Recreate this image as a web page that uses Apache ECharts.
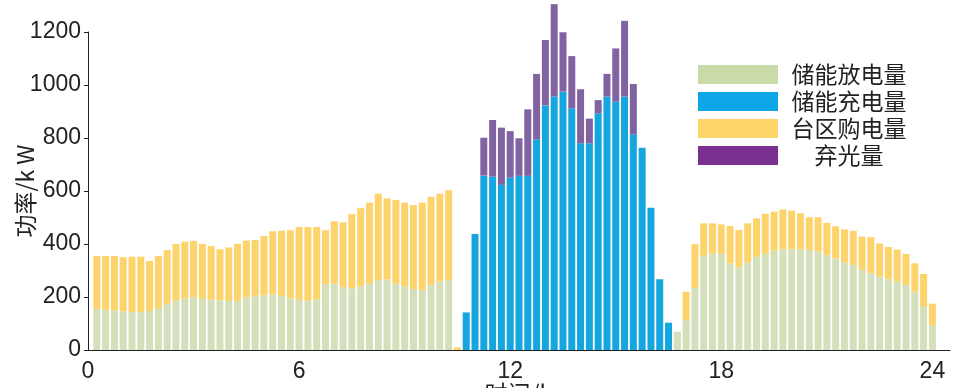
<!DOCTYPE html>
<html><head><meta charset="utf-8">
<script src="https://cdn.jsdelivr.net/npm/echarts@6/dist/echarts.min.js"></script>
<style>html,body{margin:0;padding:0;background:#fff}#c{width:958px;height:388px}</style>
</head><body><div id="c"></div>
<script>
const seriesNames = ['储能放电量', '储能充电量', '台区购电量', '弃光量'];
const xAxisTitle = '时间/h';
const yAxisTitle = '功率/k W';
const xTickHours = [0, 6, 12, 18, 24];
const yTickValues = [0, 200, 400, 600, 800, 1000, 1200];
// 15-minute slots: slot k (k = 0 .. 98) sits at hour k/4; bars occupy slots 1..96
const slotHours = Array.from({length: 99}, (_, k) => k / 4);

const discharge = [155,152,149,146,143,143,147,157,174,186,195,199,193,190,187,185,185,198,204,206,209,204,195,189,186,190,248,250,237,233,240,250,264,266,250,240,230,226,245,258,264,
  0,
  0,0,0,0,0,0,0,0,0,0,0,0,0,0,0,0,0,0,0,0,0,0,0,0,
  69,
  113,234,354,364,362,327,312,330,352,362,375,380,380,380,377,371,358,346,330,321,302,289,277,267,258,245,220,163,94];

const charge = [0,0,0,0,0,0,0,0,0,0,0,0,0,0,0,0,0,0,0,0,0,0,0,0,0,0,0,0,0,0,0,0,0,0,0,0,0,0,0,0,0,
  0,
  142,438,658,654,623,650,657,657,795,923,956,975,912,780,780,893,956,937,956,814,763,537,267,103,
  0,
  0,0,0,0,0,0,0,0,0,0,0,0,0,0,0,0,0,0,0,0,0,0,0,0,0,0,0,0,0];

const purchase = [200,203,206,204,209,209,189,198,203,214,214,213,207,202,193,202,216,215,211,224,239,246,257,275,278,274,204,236,245,280,295,306,326,306,316,316,317,330,333,332,339,
  10,
  0,0,0,0,0,0,0,0,0,0,0,0,0,0,0,0,0,0,0,0,0,0,0,0,
  0,
  107,165,124,114,112,141,141,148,145,152,147,150,146,136,124,130,122,121,125,129,126,137,125,122,121,117,107,124,81];

const curtail = [0,0,0,0,0,0,0,0,0,0,0,0,0,0,0,0,0,0,0,0,0,0,0,0,0,0,0,0,0,0,0,0,0,0,0,0,0,0,0,0,0,
  0,
  0,0,143,214,216,176,142,251,247,247,349,224,197,204,93,50,86,201,286,190,0,0,0,0,
  0,
  0,0,0,0,0,0,0,0,0,0,0,0,0,0,0,0,0,0,0,0,0,0,0,0,0,0,0,0,0];

const barColors = ['#d4dfbc', '#15a6df', '#fdd46b', '#8263a2'];
const legendColors = ['#c9dba9', '#0ea6e6', '#fdd46a', '#7b2f8e'];
const values = [discharge, charge, purchase, curtail];

const chart = echarts.init(document.getElementById('c'), null, {renderer: 'canvas'});
const numFont = 'Liberation Sans, Arial, sans-serif';
const cjkFont = 'Noto Sans CJK SC, sans-serif';
const isHourTick = (idx) => xTickHours.indexOf(slotHours[idx]) >= 0;

chart.setOption({
  animation: false,
  backgroundColor: '#ffffff',
  grid: {left: 88, right: 8, top: 32, bottom: 38},
  graphic: [
    {type: 'text', x: 519, y: 382, z: 10,
     style: {text: xAxisTitle, fontSize: 23, fontFamily: cjkFont, fill: '#222', align: 'center', verticalAlign: 'top'}},
    {type: 'text', x: 25, y: 191, rotation: Math.PI / 2, z: 10,
     style: {text: yAxisTitle, fontSize: 23, fontFamily: cjkFont, fill: '#222', align: 'center', verticalAlign: 'middle'}}
  ],
  legend: {
    orient: 'vertical',
    left: 693,
    top: 58,
    itemWidth: 80,
    itemHeight: 19,
    itemGap: 4,
    icon: 'rect',
    data: seriesNames.map((n, i) => ({name: n, itemStyle: {color: legendColors[i]}})),
    formatter: n => '{c|' + n + '}',
    textStyle: {
      rich: {c: {width: 132, align: 'center', fontSize: 23, lineHeight: 23, fontFamily: cjkFont, color: '#222'}}
    }
  },
  xAxis: {
    type: 'category',
    data: slotHours.map(String),
    boundaryGap: false,
    splitLine: {show: false},
    axisLine: {show: true, onZero: false, lineStyle: {color: '#222', width: 1}},
    axisTick: {show: true, inside: true, length: 5, interval: isHourTick, lineStyle: {color: '#222', width: 1}},
    axisLabel: {interval: isHourTick, fontSize: 23, fontFamily: numFont, color: '#222', margin: 10,
      formatter: v => String(Number(v))}
  },
  yAxis: {
    type: 'value',
    min: 0,
    max: 1200,
    interval: 200,
    splitLine: {show: false},
    axisLine: {show: true, onZero: false, lineStyle: {color: '#222', width: 1}},
    axisTick: {show: true, inside: false, length: 4, lineStyle: {color: '#222', width: 1}},
    axisLabel: {fontSize: 23, fontFamily: numFont, color: '#222', margin: 7, formatter: v => String(v)}
  },
  series: seriesNames.map((n, k) => ({
    name: n,
    type: 'bar',
    stack: 'total',
    barWidth: 7,
    clip: false,
    itemStyle: {color: barColors[k]},
    data: slotHours.map((h, idx) => (idx >= 1 && idx <= 96) ? values[k][idx - 1] : 0)
  }))
});
</script>
</body></html>
